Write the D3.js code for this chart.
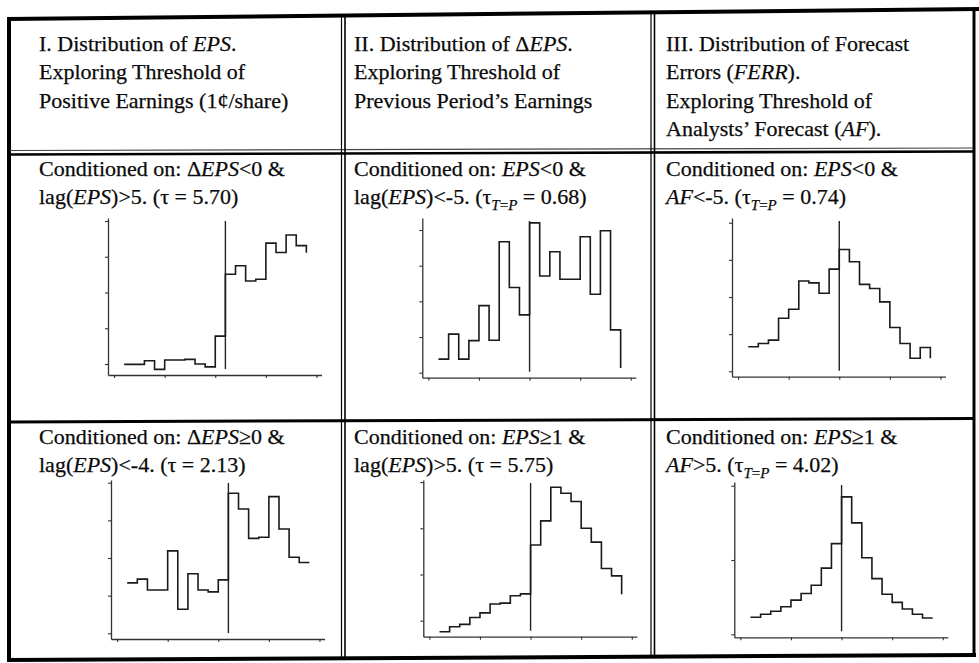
<!DOCTYPE html>
<html>
<head>
<meta charset="utf-8">
<script src="https://cdn.jsdelivr.net/npm/d3@7/dist/d3.min.js"></script>
<style>
body { margin: 0; background: #fff; }
svg { display: block; font-family: "Liberation Serif", "Times New Roman", serif; }
</style>
</head>
<body>
<svg id="chart" width="979" height="663"></svg>
<script>
// left edge of each one-unit histogram bin
var binStart = [-9, -8, -7, -6, -5, -4, -3, -2, -1, 0, 1, 2, 3, 4, 5, 6, 7, 8]
var xTicks = [-10, -5, 0, 5, 10]

// bar heights, in units of the y tick spacing
var epsDeltaNeg = [0.99, 0.99, 1.09, 0.85, 1.11, 1.11, 1.13, 1.00, 0.92, 1.78, 3.51, 3.75, 3.32, 3.37, 4.38, 4.12, 4.61, 4.31]
var dEpsNeg = [1.38, 2.08, 1.38, 1.90, 2.88, 1.91, 4.67, 3.39, 2.62, 5.20, 3.71, 4.39, 3.62, 3.62, 4.81, 3.20, 4.98, 2.20]
var ferrNeg = [1.66, 1.75, 1.84, 2.43, 2.67, 3.43, 3.38, 3.10, 3.75, 4.28, 3.95, 3.34, 3.23, 2.87, 2.18, 1.75, 1.35, 1.64]
var epsDeltaPos = [2.34, 2.44, 2.15, 2.15, 3.19, 1.64, 2.58, 2.15, 2.10, 2.42, 4.72, 4.30, 3.52, 3.55, 4.63, 3.77, 3.02, 2.88]
var dEpsPos = [0.76, 0.87, 0.92, 1.07, 1.17, 1.36, 1.38, 1.54, 1.58, 2.64, 3.16, 3.89, 3.76, 3.58, 3.00, 2.70, 2.13, 1.97]
var ferrPos = [1.23, 1.27, 1.31, 1.37, 1.46, 1.55, 1.66, 1.89, 2.22, 2.85, 2.50, 2.03, 1.75, 1.54, 1.43, 1.34, 1.27, 1.22]
// where the last bar's right edge stops
var tails = [4.11, 1.13, 1.35, 2.88, 1.57, 1.22]
var thresholds = [1, 0, 0, 1, 0, 0]
var yTicks = [[1, 2, 3, 4, 5], [1, 2, 3, 4, 5], [1, 2, 3, 4, 5], [1, 2, 3, 4, 5], [1, 2, 3, 4], [1, 2, 3]]

// text: each line is a list of [text, style]; i = italic, s = subscript
var headers = [
    [[["I. Distribution of ", ""], ["EPS", "i"], [".", ""]],
     [["Exploring Threshold of", ""]],
     [["Positive Earnings (1\u00a2/share)", ""]]],
    [[["II. Distribution of \u0394", ""], ["EPS", "i"], [".", ""]],
     [["Exploring Threshold of", ""]],
     [["Previous Period\u2019s Earnings", ""]]],
    [[["III. Distribution of Forecast", ""]],
     [["Errors (", ""], ["FERR", "i"], [").", ""]],
     [["Exploring Threshold of", ""]],
     [["Analysts\u2019 Forecast (", ""], ["AF", "i"], [").", ""]]]
]
var conditions = [
    [[["Conditioned on: \u0394", ""], ["EPS", "i"], ["<0 &", ""]],
     [["lag(", ""], ["EPS", "i"], [")>5. (\u03c4 = 5.70)", ""]]],
    [[["Conditioned on: ", ""], ["EPS", "i"], ["<0 &", ""]],
     [["lag(", ""], ["EPS", "i"], [")<-5. (\u03c4", ""], ["T", "si"], ["=", "s"], ["P", "si"], [" = 0.68)", ""]]],
    [[["Conditioned on: ", ""], ["EPS", "i"], ["<0 &", ""]],
     [["AF", "i"], ["<-5. (\u03c4", ""], ["T", "si"], ["=", "s"], ["P", "si"], [" = 0.74)", ""]]],
    [[["Conditioned on: \u0394", ""], ["EPS", "i"], ["\u22650 &", ""]],
     [["lag(", ""], ["EPS", "i"], [")<-4. (\u03c4 = 2.13)", ""]]],
    [[["Conditioned on: ", ""], ["EPS", "i"], ["\u22651 &", ""]],
     [["lag(", ""], ["EPS", "i"], [")>5. (\u03c4 = 5.75)", ""]]],
    [[["Conditioned on: ", ""], ["EPS", "i"], ["\u22651 &", ""]],
     [["AF", "i"], [">5. (\u03c4", ""], ["T", "si"], ["=", "s"], ["P", "si"], [" = 4.02)", ""]]]
]

var series = [epsDeltaNeg, dEpsNeg, ferrNeg, epsDeltaPos, dEpsPos, ferrPos]

// plot frames in page pixels: y axis x, axis bottom/top, first/last tick y
var frames = [
    {x0: 108, bottom: 375, top: 218, t1: 364, tN: 221},
    {x0: 422.3, bottom: 377.7, top: 218, t1: 372.7, tN: 230},
    {x0: 732, bottom: 376.7, top: 218, t1: 371.3, tN: 222.7},
    {x0: 111, bottom: 639, top: 480, t1: 633.3, tN: 482.7},
    {x0: 423.3, bottom: 636.7, top: 480, t1: 620.7, tN: 482.1},
    {x0: 734.3, bottom: 637.3, top: 482, t1: 634.3, tN: 485.7}
]
var colX = [39, 354, 666]

var svg = d3.select("#chart")
svg.append("rect").attr("width", 979).attr("height", 663).attr("fill", "#fff")

var writeLines = function(g, lines, x, y0, step) {
    lines.forEach(function(line, i) {
        var t = g.append("text")
            .attr("x", x)
            .attr("y", y0 + i * step)
            .style("font-size", "22px")
            .attr("fill", "#0a0a0a")
            .attr("stroke", "#0a0a0a")
            .attr("stroke-width", 0.25)
        var shift = 0
        line.forEach(function(seg) {
            var sub = seg[1].indexOf("s") >= 0
            var want = sub ? 6 : 0
            var sp = t.append("tspan").text(seg[0])
            if (want != shift) {
                sp.attr("dy", want - shift)
                shift = want
            }
            if (seg[1].indexOf("i") >= 0) sp.style("font-style", "italic")
            if (sub) sp.style("font-size", "15px")
        })
    })
}

// frame and rules
var rules = svg.append("g").attr("stroke", "#000").attr("fill", "none")
rules.append("line").attr("x1", 7).attr("y1", 19).attr("x2", 979).attr("y2", 9).attr("stroke-width", 4)
rules.append("line").attr("x1", 9).attr("y1", 17).attr("x2", 9).attr("y2", 661).attr("stroke-width", 4)
rules.append("line").attr("x1", 974).attr("y1", 10).attr("x2", 974).attr("y2", 656).attr("stroke-width", 3)
rules.append("line").attr("x1", 7).attr("y1", 660).attr("x2", 976).attr("y2", 655).attr("stroke-width", 4)
rules.append("line").attr("x1", 10).attr("y1", 150.5).attr("x2", 973).attr("y2", 148).attr("stroke-width", 1.2).attr("stroke", "#444")
rules.append("line").attr("x1", 10).attr("y1", 154.5).attr("x2", 973).attr("y2", 151.5).attr("stroke-width", 2.6)
rules.append("line").attr("x1", 10).attr("y1", 422).attr("x2", 973).attr("y2", 418.5).attr("stroke-width", 3)
;[341.5, 651].forEach(function(x) {
    rules.append("line").attr("x1", x).attr("y1", 14).attr("x2", x).attr("y2", 658).attr("stroke-width", 1.2)
    rules.append("line").attr("x1", x + 3.5).attr("y1", 14).attr("x2", x + 3.5).attr("y2", 658).attr("stroke-width", 1.6)
})

headers.forEach(function(lines, c) {
    writeLines(svg.append("g"), lines, colX[c], 51, 28.3)
})
conditions.forEach(function(lines, k) {
    var y0 = k < 3 ? 176 : 444
    writeLines(svg.append("g"), lines, colX[k % 3], y0, 28)
})

// histograms
series.forEach(function(vals, k) {
    var f = frames[k]
    var x = d3.scaleLinear().domain([-10.6, 10.5]).range([f.x0, f.x0 + 21.1 * 10.12])
    var ticks = yTicks[k]
    var y = d3.scaleLinear().domain([1, ticks[ticks.length - 1]]).range([f.t1, f.tN])
    y.domain([y.invert(f.bottom), y.invert(f.top)]).range([f.bottom, f.top])

    var g = svg.append("g")
    var yAxis = d3.axisLeft(y).tickValues(ticks).tickSize(3).tickSizeOuter(0).tickFormat("")
    var xAxis = d3.axisBottom(x).tickValues(xTicks).tickSize(3).tickSizeOuter(0).tickFormat("")
    g.append("g").attr("transform", "translate(" + f.x0 + ",0)").call(yAxis)
    g.append("g").attr("transform", "translate(0," + f.bottom + ")").call(xAxis)
    g.selectAll(".domain").attr("stroke", "#333").attr("stroke-width", 1.3)
    g.selectAll(".tick line").attr("stroke", "#333").attr("stroke-width", 1.1)

    g.append("line")
        .attr("x1", x(thresholds[k])).attr("x2", x(thresholds[k]))
        .attr("y1", f.top + 3).attr("y2", f.bottom - 6)
        .attr("stroke", "#222").attr("stroke-width", 1.4)

    var pts = binStart.map(function(b, i) { return [b, vals[i]] })
    pts.push([binStart[binStart.length - 1] + 1, vals[vals.length - 1]])
    pts.push([binStart[binStart.length - 1] + 1, tails[k]])
    var line = d3.line()
        .x(function(d) { return x(d[0]) })
        .y(function(d) { return y(d[1]) })
        .curve(d3.curveStepAfter)
    g.append("path")
        .attr("d", line(pts))
        .attr("fill", "none")
        .attr("stroke", "#1a1a1a")
        .attr("stroke-width", 1.6)
})
</script>
</body>
</html>
